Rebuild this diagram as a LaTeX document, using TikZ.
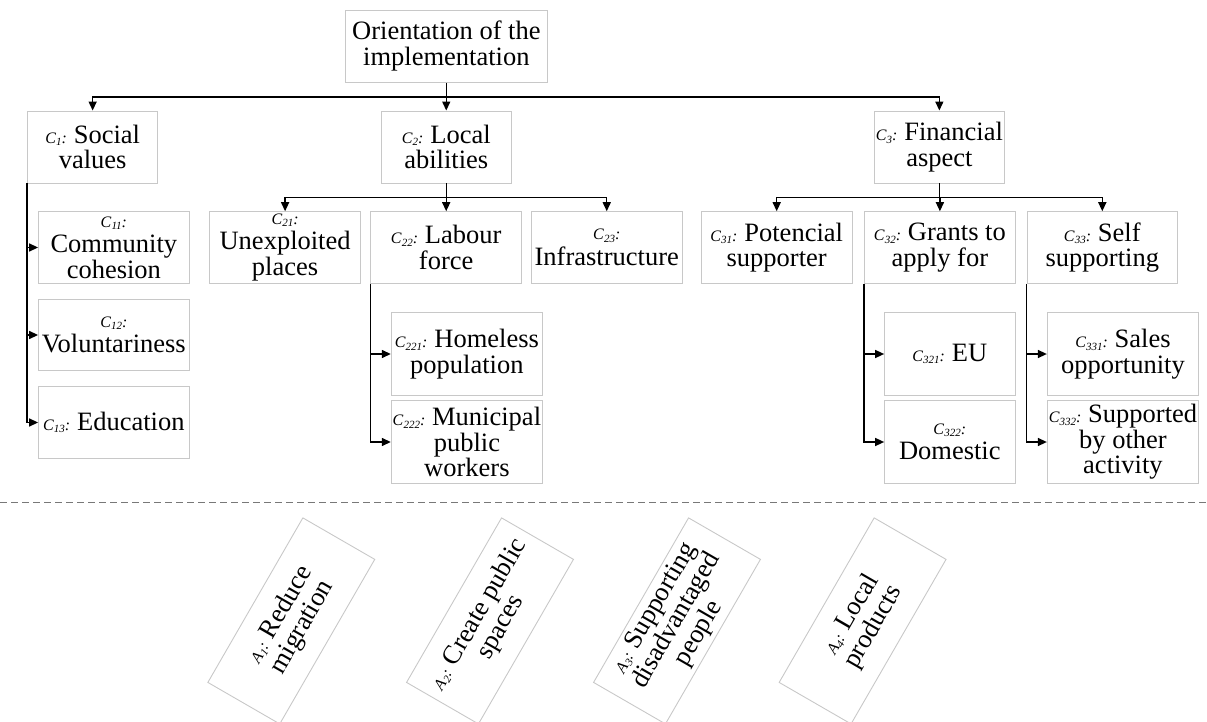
\documentclass[tikz,border=0pt]{standalone}
\usepackage{fontspec}
\setmainfont{Liberation Serif}
\usetikzlibrary{arrows.meta}
\definecolor{boxgray}{RGB}{200,200,200}
\definecolor{dashgray}{RGB}{120,120,120}
\newcommand{\lbl}[2]{{\fontsize{16}{16}\selectfont\textit{#1}\raisebox{-2.5pt}{\fontsize{11}{11}\selectfont\textit{#2}}\textit{:}}\hspace{-2pt}}
\begin{document}
\begin{tikzpicture}[x=1pt,y=-1pt,
  font=\fontsize{26.5}{25.5}\selectfont,
  box/.style={draw=boxgray, line width=0.9pt, inner sep=0pt, align=center},
  rootbox/.style={box, minimum width=201.7pt, minimum height=72.3pt},
  lvone/.style={box, minimum width=130.3pt, minimum height=72pt},
  lvtwo/.style={box, minimum width=150.6pt, minimum height=71.6pt},
  lvthree/.style={box, minimum width=151.3pt, minimum height=83pt},
  lvthreen/.style={box, minimum width=130.4pt, minimum height=83pt},
  abox/.style={box, rotate=60, minimum width=190pt, minimum height=83pt},
  ln/.style={line width=1.4pt},
  arr/.style={line width=1.4pt, -{Triangle[length=9pt,width=8pt]}},
  dashline/.style={dashgray, line width=1pt, dash pattern=on 7pt off 4pt}
]
\useasboundingbox (0,0) rectangle (1207,722);
\clip (0,0) rectangle (1207,722);

\node[rootbox] (root) at (446.4,46.2) {Orientation of the\\implementation};

\node[lvone] (C1) at (92.65,147) {\lbl{C}{1} Social\\values};
\node[lvone] (C2) at (446.25,147) {\lbl{C}{2} Local\\abilities};
\node[lvone] (C3) at (939.35,147) {\lbl{C}{3} Financial\\aspect};

\node[lvtwo] (C11) at (113.85,247.5) {\lbl{C}{11}\\Community\\cohesion};
\node[lvtwo] (C12) at (113.85,335) {\lbl{C}{12}\\Voluntariness};
\node[lvtwo] (C13) at (113.85,422.5) {\lbl{C}{13} Education};

\node[lvtwo] (C21) at (285.1,247.5) {\lbl{C}{21}\\Unexploited\\places};
\node[lvtwo] (C22) at (446.2,247.5) {\lbl{C}{22} Labour\\force};
\node[lvtwo] (C23) at (606.75,247.5) {\lbl{C}{23}\\Infrastructure};

\node[lvtwo] (C31) at (776.7,247.5) {\lbl{C}{31} Potencial\\supporter};
\node[lvtwo] (C32) at (939.9,247.5) {\lbl{C}{32} Grants to\\apply for};
\node[lvtwo] (C33) at (1102.3,247.5) {\lbl{C}{33} Self\\supporting};

\node[lvthree] (C221) at (466.9,354) {\lbl{C}{221} Homeless\\population};
\node[lvthree] (C222) at (466.9,442) {\lbl{C}{222} Municipal\\public\\workers};

\node[lvthreen] (C321) at (949.8,354) {\lbl{C}{321} EU};
\node[lvthreen] (C322) at (949.8,442) {\lbl{C}{322}\\Domestic};

\node[lvthree] (C331) at (1122.95,354) {\lbl{C}{331} Sales\\opportunity};
\node[lvthree] (C332) at (1122.95,442) {\lbl{C}{332} Supported\\by other\\activity};

% top level bus
\path (root.south) ++(0,14.4) coordinate (b0);
\draw[ln] (root.south) -- (b0);
\draw[arr] (b0) -| (C1.north);
\draw[arr] (b0) -| (C2.north);
\draw[arr] (b0) -| (C3.north);

% C2 bus
\path (C2.south) ++(0,14.3) coordinate (b2);
\draw[ln] (C2.south) -- (b2);
\draw[arr] (b2) -| (C21.north);
\draw[arr] (b2) -| (C22.north);
\draw[arr] (b2) -| (C23.north);

% C3 bus
\path (C3.south) ++(0,14.3) coordinate (b3);
\draw[ln] (C3.south) -- (b3);
\draw[arr] (b3) -| (C31.north);
\draw[arr] (b3) -| (C32.north);
\draw[arr] (b3) -| (C33.north);

% side stems
\draw[arr] (C1.south west) |- (C11.west);
\draw[arr] (C1.south west) |- (C12.west);
\draw[arr] (C1.south west) |- (C13.west);

\draw[arr] (C22.south west) |- (C221.west);
\draw[arr] (C22.south west) |- (C222.west);

\draw[arr] (C32.south west) |- (C321.west);
\draw[arr] (C32.south west) |- (C322.west);

\draw[arr] (C33.south west) |- (C331.west);
\draw[arr] (C33.south west) |- (C332.west);

% separator
\coordinate (dl) at (0,502.3);
\coordinate (dr) at (1207,502.3);
\draw[dashline] (dl) -- (dr);

% alternatives
\node[abox] (A1) at (291.3,620.9) {\lbl{A}{1} Reduce\\migration};
\node[abox] (A2) at (490,620.9) {\lbl{A}{2} Create public\\spaces};
\node[abox] (A3) at (677,620.9) {\lbl{A}{3} Supporting\\disadvantaged\\people};
\node[abox] (A4) at (862.6,620.9) {\lbl{A}{4} Local\\products};
\end{tikzpicture}
\end{document}
